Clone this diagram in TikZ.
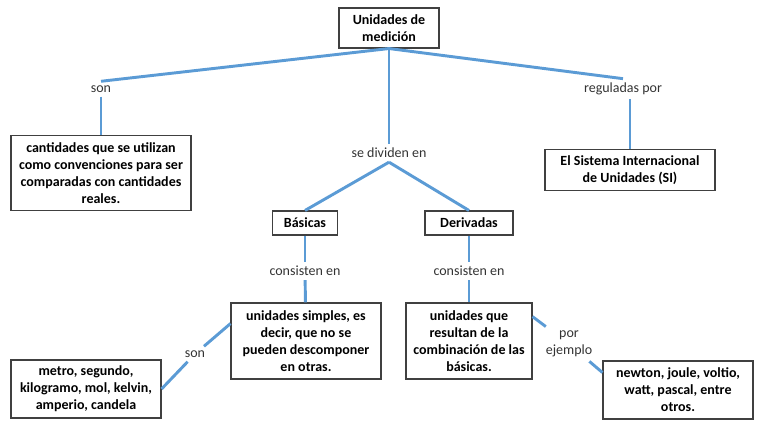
\documentclass[tikz,border=0pt]{standalone}
\usepackage{fontspec}
\setmainfont{Carlito}
\usetikzlibrary{positioning}
\definecolor{lineblue}{RGB}{91,155,213}

\begin{document}
\begin{tikzpicture}[x=0.75pt, y=-0.75pt]
	% Define styles
	\tikzset{
		box/.style={rectangle, draw=black!75, line width=0.8pt, fill=white, align=center, inner sep=2pt, font=\bfseries\fontsize{10.5}{12.8}\selectfont},
		lbl/.style={rectangle, align=center, inner sep=3pt, text=black!80, font=\fontsize{10.5}{12.8}\selectfont},
		line/.style={draw, lineblue, line width=2.2pt}
	}
	\useasboundingbox (0,0) rectangle (768,429);
	
	% Nodes
	\node[box, minimum width=75pt, minimum height=30pt] (unid) at (389,28) {Unidades de\\medición};
	
	\node[lbl] (son) at (101,89) {son};
	\node[lbl] (divid) at (389,153) {se dividen en};
	\node[lbl] (regul) at (623,89) {reguladas por};
	
	\node[box, minimum width=135pt, minimum height=56pt] (cant) at (101,173) {cantidades que se utilizan\\como convenciones para ser\\comparadas con cantidades\\reales.};
	\node[box, minimum width=127.5pt, minimum height=31pt] (si) at (630,170) {El Sistema Internacional\\de Unidades (SI)};
	
	\node[box, minimum width=49pt, minimum height=18pt] (basic) at (305,223) {Básicas};
	\node[box, minimum width=66pt, minimum height=18pt] (deriv) at (469,223) {Derivadas};
	
	\node[lbl] (cons1) at (305,271) {consisten en};
	\node[lbl] (cons2) at (469,271) {consisten en};
	
	\node[box, minimum width=112.5pt, minimum height=57pt] (simp) at (306,341) {unidades simples, es\\decir, que no se\\pueden descomponer\\en otras.};
	\node[box, minimum width=94.5pt, minimum height=57pt] (comb) at (469,341) {unidades que\\resultan de la\\combinación de las\\básicas.};
	
	\node[lbl] (son2) at (195,354) {son};
	\node[lbl] (ejem) at (569,344) {por\\ejemplo};
	
	\node[box, minimum width=112.5pt, minimum height=43.5pt] (metro) at (86,389) {metro, segundo,\\kilogramo, mol, kelvin,\\amperio, candela};
	\node[box, minimum width=112.5pt, minimum height=43.5pt] (newt) at (678,390) {newton, joule, voltio,\\watt, pascal, entre\\otros.};
	
	% Lines
	\path [line] (unid.south) -- (son.north);
	\path [line] (son.south) -- (cant.north);
	\path [line] (unid.south) -- (divid.north);
	\path [line] (unid.south) -- (regul.north);
	\path [line] (regul.south -| si.north) -- (si.north);
	
	\path [line] (divid.south) -- (basic.north);
	\path [line] (divid.south) -- (deriv.north);
	
	\path [line] (basic) -- (cons1);
	\path [line] (cons1) -- (simp);
	\path [line] (deriv) -- (cons2);
	\path [line] (cons2) -- (comb);
	
	\path [line] (simp.167) -- (son2);
	\path [line] (son2) -- (metro.east);
	\path [line] (comb.21) -- (ejem);
	\path [line] (ejem) -- (newt.167);
\end{tikzpicture}
\end{document}
